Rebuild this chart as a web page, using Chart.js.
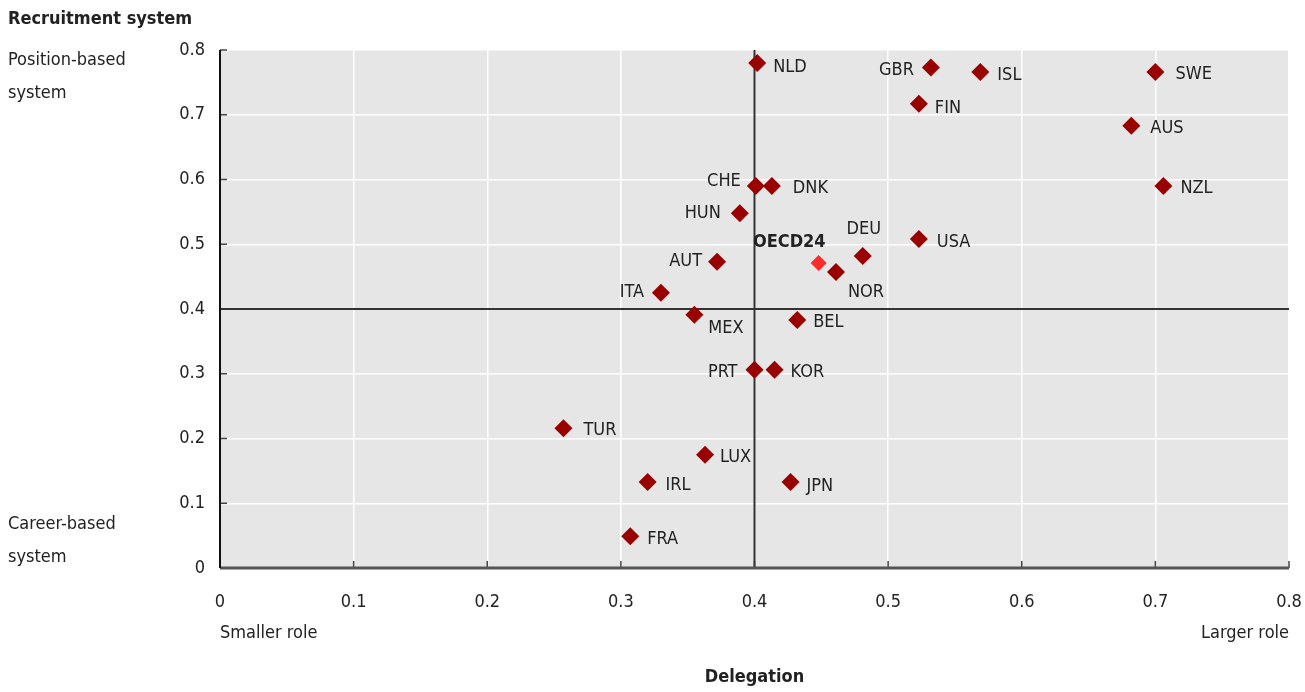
<!DOCTYPE html>
<html>
<head>
<meta charset="utf-8">
<script src="https://cdn.jsdelivr.net/npm/chart.js@4/dist/chart.umd.min.js"></script>
<style>
html,body{margin:0;padding:0;background:#fff;}
#wrap{width:1305px;height:692px;position:relative;}
</style>
</head>
<body>
<div id="wrap"><canvas id="c" width="1305" height="692"></canvas></div>
<script>
// ---- data ----
const countries = ["NLD","GBR","ISL","SWE","FIN","AUS","NZL","CHE","DNK","HUN","DEU","USA","NOR","AUT","ITA","MEX","BEL","PRT","KOR","TUR","LUX","IRL","JPN","FRA"];
const delegation = [0.402,0.532,0.569,0.700,0.523,0.682,0.706,0.401,0.413,0.389,0.481,0.523,0.461,0.372,0.330,0.355,0.432,0.400,0.415,0.257,0.363,0.320,0.427,0.307];
const recruitment = [0.780,0.773,0.766,0.766,0.717,0.683,0.590,0.590,0.590,0.548,0.482,0.508,0.457,0.473,0.425,0.391,0.383,0.306,0.306,0.216,0.175,0.133,0.133,0.049];
const oecdLabel = ["OECD24"];
const oecdDelegation = [0.448];
const oecdRecruitment = [0.471];
const tickValues = [0,0.1,0.2,0.3,0.4,0.5,0.6,0.7,0.8];
const refX = 0.4, refY = 0.4;

// ---- label layout (style, not data) ----
const labelPlacement = {
  NLD:["left",16,4], GBR:["right",-17,3], ISL:["left",17,3], SWE:["left",20,2], FIN:["left",16,5],
  AUS:["left",19,3], NZL:["left",17,2], CHE:["right",-15,-5], DNK:["left",21,2], HUN:["right",-19,0],
  DEU:["center",1,-27], USA:["left",18,3], NOR:["left",12,20], AUT:["right",-15,0], ITA:["right",-17,0],
  MEX:["left",14,14], BEL:["left",16,2], PRT:["right",-17,2], KOR:["left",16,2], TUR:["left",20,2],
  LUX:["left",15,3], IRL:["left",18,3], JPN:["left",16,4], FRA:["left",17,3], OECD24:["right",7,-21]
};

const FONT = "'Liberation Sans Narrow','Arial Narrow','DejaVu Sans Condensed',sans-serif";
const TXT = "#222";

const pts = countries.map((c,i)=>({x:delegation[i], y:recruitment[i], label:c}));
const oecdPts = oecdLabel.map((c,i)=>({x:oecdDelegation[i], y:oecdRecruitment[i], label:c}));

const decor = {
  id:'decor',
  beforeDraw(chart){
    const {ctx, chartArea:a} = chart;
    ctx.save();
    ctx.fillStyle = '#e6e6e6';
    ctx.fillRect(a.left, a.top, a.right-a.left, a.bottom-a.top);
    ctx.restore();
  },
  beforeDatasetsDraw(chart){
    const {ctx, chartArea:a, scales:{x,y}} = chart;
    ctx.save();
    ctx.strokeStyle = '#444';
    ctx.lineWidth = 1.5;
    tickValues.forEach(v=>{
      const px = x.getPixelForValue(v);
      ctx.beginPath(); ctx.moveTo(px, a.bottom); ctx.lineTo(px, a.bottom-7); ctx.stroke();
      const py = y.getPixelForValue(v);
      ctx.beginPath(); ctx.moveTo(a.left, py); ctx.lineTo(a.left+7, py); ctx.stroke();
    });
    ctx.strokeStyle = '#333';
    ctx.lineWidth = 2;
    const rx = x.getPixelForValue(refX), ry = y.getPixelForValue(refY);
    ctx.beginPath(); ctx.moveTo(rx, a.top); ctx.lineTo(rx, a.bottom); ctx.stroke();
    ctx.beginPath(); ctx.moveTo(a.left, ry); ctx.lineTo(a.right, ry); ctx.stroke();
    ctx.strokeStyle = '#555';
    ctx.lineWidth = 3;
    ctx.beginPath(); ctx.moveTo(a.left, a.bottom); ctx.lineTo(a.right, a.bottom); ctx.stroke();
    ctx.strokeStyle = '#111';
    ctx.lineWidth = 2;
    ctx.beginPath(); ctx.moveTo(a.left, a.top); ctx.lineTo(a.left, a.bottom); ctx.stroke();
    ctx.restore();
  },
  afterDatasetsDraw(chart){
    const {ctx} = chart;
    ctx.save();
    chart.data.datasets.forEach((ds,di)=>{
      const meta = chart.getDatasetMeta(di);
      ds.data.forEach((p,i)=>{
        const el = meta.data[i];
        const pl = labelPlacement[p.label] || ["left",16,3];
        ctx.font = (p.label==="OECD24" ? "bold " : "") + "18px " + FONT;
        ctx.fillStyle = TXT;
        ctx.textAlign = pl[0];
        ctx.textBaseline = 'middle';
        ctx.fillText(p.label, el.x + pl[1], el.y + pl[2]);
      });
    });
    ctx.restore();
  },
  afterDraw(chart){
    const {ctx, chartArea:a} = chart;
    ctx.save();
    ctx.fillStyle = TXT;
    ctx.textBaseline = 'middle';
    ctx.textAlign = 'left';
    ctx.font = "bold 18px " + FONT;
    ctx.fillText("Recruitment system", 8, 19);
    ctx.font = "18px " + FONT;
    ctx.fillText("Position-based", 8, 60);
    ctx.fillText("system", 8, 93);
    ctx.fillText("Career-based", 8, 524);
    ctx.fillText("system", 8, 557);
    ctx.fillText("Smaller role", a.left, 633);
    ctx.textAlign = 'right';
    ctx.fillText("Larger role", a.right, 633);
    ctx.textAlign = 'center';
    ctx.font = "bold 18px " + FONT;
    ctx.fillText("Delegation", (a.left+a.right)/2, 677);
    ctx.restore();
  }
};

new Chart(document.getElementById('c'), {
  type:'scatter',
  data:{datasets:[
    {data:pts, pointStyle:'rectRot', pointRadius:9, pointHoverRadius:9, backgroundColor:'#990000', borderColor:'#990000', borderWidth:0},
    {data:oecdPts, pointStyle:'rectRot', pointRadius:8, pointHoverRadius:8, backgroundColor:'#ff2a2a', borderColor:'#ff2a2a', borderWidth:0}
  ]},
  options:{
    responsive:false, animation:false,
    layout:{padding:{left:0, top:50, right:16, bottom:0}},
    plugins:{legend:{display:false}, tooltip:{enabled:false}},
    scales:{
      x:{type:'linear', min:0, max:0.8,
         afterBuildTicks(s){ s.ticks = tickValues.map(v=>({value:v})); },
         afterFit(s){ s.height = 124; s.paddingLeft = 0; s.paddingRight = 0; },
         grid:{color:'#ffffff', lineWidth:1.5, drawTicks:false},
         border:{display:false},
         ticks:{padding:24, color:TXT, font:{family:FONT, size:18}, maxRotation:0,
           callback:(v)=> v===0 ? '0' : String(Math.round(v*10)/10)}},
      y:{type:'linear', min:0, max:0.8,
         afterBuildTicks(s){ s.ticks = tickValues.map(v=>({value:v})); },
         afterFit(s){ s.width = 220; s.paddingTop = 0; s.paddingBottom = 0; },
         grid:{color:'#ffffff', lineWidth:1.5, drawTicks:false},
         border:{display:false},
         ticks:{padding:15, color:TXT, font:{family:FONT, size:18},
           callback:(v)=> v===0 ? '0' : String(Math.round(v*10)/10)}}
    }
  },
  plugins:[decor]
});
</script>
</body>
</html>
